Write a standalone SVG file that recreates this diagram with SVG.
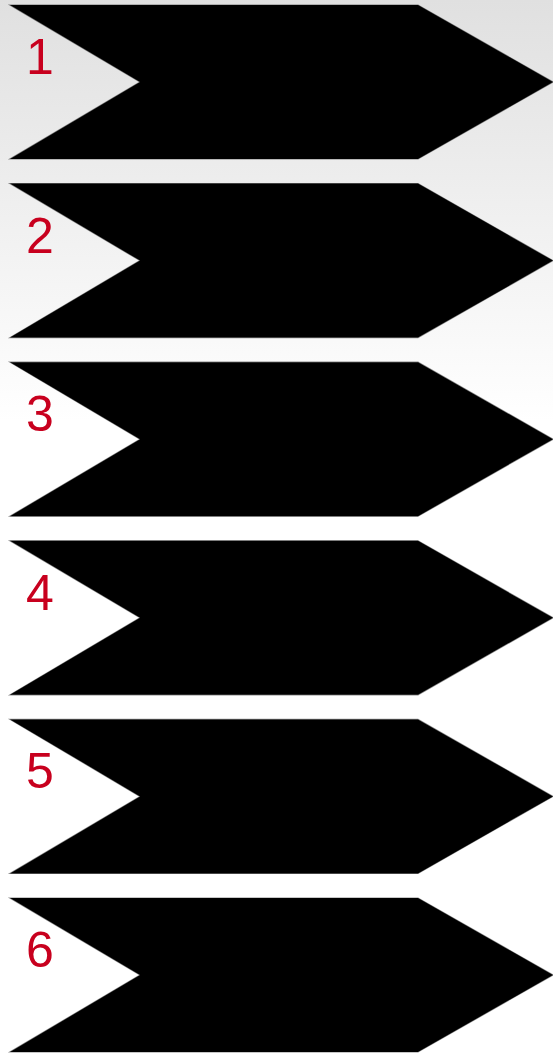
<svg xmlns="http://www.w3.org/2000/svg" width="553" height="1054" viewBox="0 0 553 1054">
<defs>
<linearGradient id="bg" x1="0" y1="0" x2="0" y2="1054" gradientUnits="userSpaceOnUse">
<stop offset="0" stop-color="#e0e0e0"/>
<stop offset="0.4" stop-color="#ffffff"/>
<stop offset="1" stop-color="#ffffff"/>
</linearGradient>
<polygon id="chev" points="10,5 418,5 553,82 418,159 10,159 140,82"/>
</defs>
<style>
.c{fill:#000;stroke:#000;stroke-opacity:0.45;stroke-width:1.2;stroke-linejoin:miter}
.n{font-family:"Liberation Sans",Arial,sans-serif;font-size:50px;fill:#c8001e}
</style>
<rect width="553" height="1054" fill="url(#bg)"/>
<g id="step1"><use href="#chev" class="c"/><text class="n" x="26" y="74">1</text></g>
<g id="step2" transform="translate(0,178.6)"><use href="#chev" class="c"/><text class="n" x="26" y="74">2</text></g>
<g id="step3" transform="translate(0,357.2)"><use href="#chev" class="c"/><text class="n" x="26" y="74">3</text></g>
<g id="step4" transform="translate(0,535.8)"><use href="#chev" class="c"/><text class="n" x="26" y="74">4</text></g>
<g id="step5" transform="translate(0,714.4)"><use href="#chev" class="c"/><text class="n" x="26" y="74">5</text></g>
<g id="step6" transform="translate(0,893)"><use href="#chev" class="c"/><text class="n" x="26" y="74">6</text></g>
<g id="connectors"/>
</svg>
